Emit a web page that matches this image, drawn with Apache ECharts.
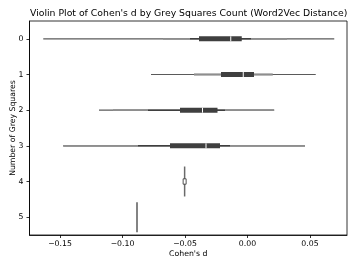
<!DOCTYPE html>
<html>
<head>
<meta charset="utf-8">
<script src="https://cdn.jsdelivr.net/npm/echarts@6/dist/echarts.min.js"></script>
<style>html,body{margin:0;padding:0;background:#fff;}#c{width:357px;height:268px;}</style>
</head>
<body>
<div id="c"></div>
<script>
const categories = ['0', '1', '2', '3', '4', '5'];
const xTicks = [-0.15, -0.10, -0.05, 0.00, 0.05];
const bodyMin = [-0.1634, -0.0772, -0.1188, -0.1474, -0.0503, -0.0884];
const bodyMax = [0.0694, 0.0546, 0.0214, 0.0460, -0.0503, -0.0884];
const whiskerLow = [-0.0460, -0.0428, -0.0796, -0.0876, -0.0503, null];
const whiskerHigh = [0.0028, 0.0202, -0.0180, -0.0140, -0.0503, null];
const q1 = [-0.0388, -0.0212, -0.0540, -0.0620, -0.0503, null];
const median = [-0.0134, -0.0034, -0.0360, -0.0332, -0.0503, null];
const q3 = [-0.0046, 0.0052, -0.0240, -0.0220, -0.0503, null];
const densLeftLo = [-0.0676, -0.0428, -0.1076, -0.1474, null, null];
const densLeftHi = [-0.0460, -0.0212, -0.0796, -0.0876, null, null];
const densRightLo = [0.0028, 0.0052, -0.0180, -0.0140, null, null];
const densRightHi = [0.0316, 0.0202, 0.0212, 0.0460, null, null];

const DARK = '#3f3f3f', BODY = '#5a5a5a', LIGHT = '#8e8e8e';
const FONT = 'DejaVu Sans';

const chart = echarts.init(document.getElementById('c'), null, {renderer: 'canvas'});

function hline(X, a, b, y, color, w) {
  return {type: 'line', shape: {x1: X(a), y1: y, x2: X(b), y2: y}, style: {stroke: color, lineWidth: w}};
}

chart.setOption({
  animation: false,
  title: {
    text: "Violin Plot of Cohen's d by Grey Squares Count (Word2Vec Distance)",
    left: 25, top: 4,
    textStyle: {fontFamily: FONT, fontSize: 9.3, fontWeight: 'normal', color: '#000'}
  },
  grid: {left: 29.5, right: 10, top: 21, bottom: 33, containLabel: false, outerBoundsMode: 'none',
    show: true, borderColor: '#000', borderWidth: 0.8, backgroundColor: 'transparent'},
  xAxis: {
    type: 'value', min: -0.1744, max: 0.0796,
    name: "Cohen's d", nameLocation: 'middle', nameGap: 15, nameMoveOverlap: false,
    nameTextStyle: {fontFamily: FONT, fontSize: 7.75, color: '#000'},
    splitLine: {show: false},
    axisLine: {show: true, onZero: false, lineStyle: {color: '#000', width: 0.8}},
    axisTick: {show: true, length: 3, customValues: xTicks, lineStyle: {color: '#000', width: 0.8}},
    axisLabel: {
      customValues: xTicks, margin: 5,
      fontFamily: FONT, fontSize: 7.75, color: '#000',
      formatter: v => (v < -1e-9 ? '\u2212' + Math.abs(v).toFixed(2) : Math.abs(v).toFixed(2))
    }
  },
  yAxis: {
    type: 'category', data: categories, inverse: true,
    name: 'Number of Grey Squares', nameLocation: 'middle', nameGap: 13, nameRotate: 90, nameMoveOverlap: false,
    nameTextStyle: {fontFamily: FONT, fontSize: 7.75, color: '#000'},
    axisLine: {show: true, onZero: false, lineStyle: {color: '#000', width: 0.8}},
    axisTick: {show: true, alignWithLabel: true, length: 3, lineStyle: {color: '#000', width: 0.8}},
    axisLabel: {margin: 6, fontFamily: FONT, fontSize: 7.75, color: '#000'},
    splitLine: {show: false}
  },
  series: [{
    type: 'custom',
    data: categories.map((c, i) => [bodyMin[i], i]),
    encode: {x: 0, y: 1},
    clip: true,
    renderItem: function (params, api) {
      const i = params.dataIndex;
      const y = api.coord([0, i])[1];
      const band = api.size([0, 1])[1];
      const X = v => api.coord([v, i])[0];
      const ch = [];
      if (bodyMin[i] === bodyMax[i]) {
        const x = X(bodyMin[i]);
        ch.push({type: 'line', shape: {x1: x, y1: y - band * 0.42, x2: x, y2: y + band * 0.42},
          style: {stroke: i === 4 ? '#6a6a6a' : BODY, lineWidth: 1.5}});
        if (median[i] !== null) {
          ch.push({type: 'rect', shape: {x: X(median[i]) - 1.5, y: y - 2.7, width: 3, height: 5.4},
            style: {fill: '#fff', stroke: DARK, lineWidth: 0.9}});
        }
        return {type: 'group', children: ch};
      }
      ch.push(hline(X, bodyMin[i], bodyMax[i], y, BODY, 1.2));
      ch.push(hline(X, whiskerLow[i], whiskerHigh[i], y, DARK, 1.5));
      if (densLeftLo[i] !== null) ch.push(hline(X, densLeftLo[i], densLeftHi[i], y, LIGHT, 1.6));
      if (densRightLo[i] !== null) ch.push(hline(X, densRightLo[i], densRightHi[i], y, LIGHT, 1.6));
      ch.push(hline(X, q1[i], q3[i], y, DARK, 5));
      const xm = X(median[i]);
      ch.push({type: 'line', shape: {x1: xm, y1: y - 2.5, x2: xm, y2: y + 2.5}, style: {stroke: '#fff', lineWidth: 1}});
      return {type: 'group', children: ch};
    }
  }]
});
</script>
</body>
</html>
